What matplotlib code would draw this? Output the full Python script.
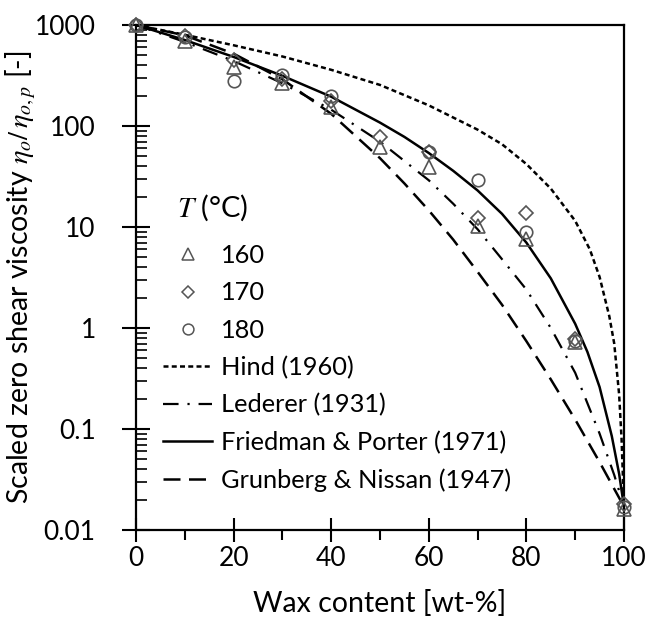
import numpy as np
import matplotlib
matplotlib.use("Agg")
import matplotlib.pyplot as plt
from matplotlib.lines import Line2D
from matplotlib.ticker import FixedLocator, FixedFormatter, LogLocator, NullFormatter

plt.rcParams['font.family'] = ['Lato', 'DejaVu Sans']
plt.rcParams['mathtext.fontset'] = 'stix'

# ---- measured data (wax content in wt-%) ----
wax = [0, 10, 20, 30, 40, 50, 60, 70, 80, 90, 100]
t160 = [1000, 700, 385, 266, 154, 62, 39, 10.2, 7.6, 0.72, 0.016]
t170 = [1000, 780, 450, 290, 175, 78, 55, 12.3, 13.8, 0.78, 0.018]
t180 = [1000, 760, 279, 320, 198, np.nan, 55, 29, 8.9, 0.74, 0.017]

# ---- model curves, values ----
hind_x = [0, 10, 20, 30, 40, 50, 60, 70, 75, 80, 85, 90, 93, 95, 97, 98, 99, 99.5, 100]
hind_y = [1000, 800, 630, 488, 360, 255, 160, 92, 66, 42, 24, 11.5, 6.0, 3.2, 1.3, 0.7, 0.22, 0.08, 0.017]

led_x = [0, 10, 20, 30, 40, 50, 60, 65, 70, 75, 80, 85, 90, 95, 98, 100]
led_y = [1000, 680, 440, 265, 145, 70, 29, 17, 9.5, 4.8, 2.4, 1.0, 0.36, 0.09, 0.035, 0.017]

fp_x = [0, 10, 20, 30, 40, 50, 55, 60, 65, 70, 75, 80, 85, 90, 92.5, 95, 97.5, 99, 100]
fp_y = [1000, 710, 483, 314, 195, 108, 78, 54, 36, 23, 13.5, 7.0, 3.1, 1.1, 0.58, 0.26, 0.085, 0.036, 0.017]

gn_x = [0, 10, 20, 30, 40, 50, 55, 60, 65, 70, 75, 80, 85, 90, 95, 100]
gn_y = [1000, 790, 520, 290, 132, 48, 27, 14.6, 7.5, 3.6, 1.7, 0.74, 0.31, 0.124, 0.047, 0.017]

xticks = [0, 20, 40, 60, 80, 100]
yticks = [0.01, 0.1, 1, 10, 100, 1000]
ytick_labels = ['0.01', '0.1', '1', '10', '100', '1000']

FS_TICK = 19
FS_LEG = 18.3
FS_LAB = 20.5

HIND = (2.0, 1.3)
LED = (7, 4, 1, 4)
GN = (6.8, 3.4)

fig = plt.figure(figsize=(6.56, 6.21), dpi=100)
ax = fig.add_axes([136/656, 1-530/621, (624-136)/656, (530-25)/621])

mk = dict(linestyle='none', markerfacecolor='none', markeredgecolor='#555555',
          markeredgewidth=1.2, clip_on=False, zorder=3)
ax.plot(wax, t160, marker='^', markersize=9.5, **mk)
ax.plot(wax, t170, marker='D', markersize=6.8, **mk)
ax.plot(wax, t180, marker='o', markersize=9, **mk)

ax.plot(hind_x, hind_y, color='black', lw=1.8, dashes=HIND)
ax.plot(led_x, led_y, color='black', lw=1.6, dashes=LED)
ax.plot(fp_x, fp_y, color='black', lw=1.8)
ax.plot(gn_x, gn_y, color='black', lw=1.8, dashes=GN)

ax.set_yscale('log')
ax.set_xlim(0, 100)
ax.set_ylim(0.01, 1000)
ax.xaxis.set_major_locator(FixedLocator(xticks))
ax.set_xticks(np.arange(10, 100, 20), minor=True)
ax.yaxis.set_major_locator(FixedLocator(yticks))
ax.yaxis.set_major_formatter(FixedFormatter(ytick_labels))
ax.yaxis.set_minor_locator(LogLocator(base=10, subs=np.arange(2, 10)))
ax.yaxis.set_minor_formatter(NullFormatter())

ax.tick_params(axis='x', which='major', direction='inout', length=17, width=1.5,
               labelsize=FS_TICK, pad=3)
ax.tick_params(axis='x', which='minor', direction='out', length=7, width=1.5)
ax.tick_params(axis='y', which='major', direction='inout', length=20, width=1.5,
               labelsize=FS_TICK, pad=19)
ax.tick_params(axis='y', which='minor', direction='in', length=8, width=1.2)
for s in ax.spines.values():
    s.set_linewidth(1.6)

ax.set_xlabel('Wax content [wt-%]', fontsize=FS_LAB)
ax.set_ylabel(r'Scaled zero shear viscosity $\eta_o/\,\eta_{o,p}$ [-]', fontsize=FS_LAB)
ax.yaxis.set_label_coords((38-136)/488, 0.5)
ax.xaxis.set_label_coords(0.5, (530-590)/505)

lmk = dict(linestyle='none', markerfacecolor='none', markeredgecolor='#555555', markeredgewidth=1.1)
handles = [
    Line2D([], [], marker='^', markersize=8, **lmk),
    Line2D([], [], marker='D', markersize=5.8, **lmk),
    Line2D([], [], marker='o', markersize=7.8, **lmk),
    Line2D([], [], color='black', lw=1.8, dashes=HIND),
    Line2D([], [], color='black', lw=1.6, dashes=LED),
    Line2D([], [], color='black', lw=1.8),
    Line2D([], [], color='black', lw=1.8, dashes=GN),
]
labels = ['160', '170', '180', 'Hind (1960)', 'Lederer (1931)',
          'Friedman & Porter (1971)', 'Grunberg & Nissan (1947)']
leg = ax.legend(handles, labels, loc='upper left',
                bbox_to_anchor=(0.034, 0.586), frameon=False, fontsize=FS_LEG,
                handlelength=1.95, handletextpad=0.35,
                labelspacing=0.56, borderaxespad=0)

ax.text((177-136)/488, (530-208)/505, r'$T$ (°C)', transform=ax.transAxes,
        fontsize=21, ha='left', va='center')

fig.savefig('out.png', dpi=100)
